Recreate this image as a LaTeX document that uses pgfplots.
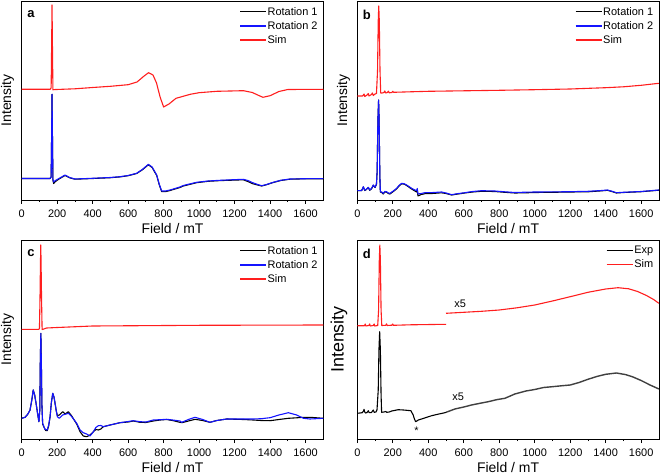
\documentclass[border=0pt]{standalone}
\usepackage{pgfplots}
\pgfplotsset{compat=1.18}
\usepackage{fontspec}
\setmainfont{Liberation Sans}
\definecolor{myred}{RGB}{255,30,30}
\definecolor{myblue}{RGB}{20,20,255}
\pgfplotsset{
  panel/.style={
    scale only axis, width=301.6bp, height=199bp,
    xmin=0, xmax=1700, ymin=0, ymax=199, y dir=reverse,
    ytick=\empty, xtick={0,200,...,1600}, minor x tick num=1,
    tick align=outside, xtick pos=left,
    major tick length=4bp, minor tick length=2bp,
    axis line style={line width=0.8bp}, every tick/.style={line width=0.8bp, black},
    /pgf/number format/assume math mode=true, /pgf/number format/1000 sep={},
    xticklabel style={font=\fontsize{11}{11}\selectfont, inner sep=0pt, yshift=-6bp},
    xlabel={Field / mT}, ylabel={Intensity},
    xlabel style={font=\fontsize{14}{14}\selectfont, at={(axis description cs:0.5,-0.117)}, anchor=north, inner sep=0pt},
    ylabel style={font=\fontsize{14}{14}\selectfont, at={(axis description cs:-0.047,0.5)}, anchor=center, inner sep=0pt},
    legend style={draw=none, fill=none, font=\fontsize{11}{12}\selectfont, at={(axis description cs:0.985,0.975)}, anchor=north east, inner sep=0pt, row sep=2.6bp, nodes={inner sep=1bp}},
    legend cell align=left,
    legend image code/.code={\draw[#1, line width=1.2bp] (0bp,0bp) -- (26bp,0bp);},
    every axis plot/.append style={line width=1.1bp, line join=round},
    clip=true,
  }
}
\begin{document}
\begin{tikzpicture}
\path[use as bounding box] (0bp,0bp) rectangle (661bp,475bp);
% ---------------- panel a
\begin{axis}[panel, at={(21.7bp,275bp)}, anchor=south west]
\addplot[black] coordinates {(0,177.5)(160,177.5)(166,176)(169,130)(171,93.3)(173,130)(176,179)(180,182.5)(190,180.5)(215,177.5)(244,174.5)(270,176.8)(300,178.2)(400,177.5)(500,176.7)(554,175.9)(600,174.7)(648,172.5)(680,168.8)(714,163.8)(735,166.5)(761,174.5)(775,183.5)(789,190.7)(810,190.7)(836,189.5)(892,186.5)(911,185)(986,181.7)(1050,180.3)(1118,179.6)(1249,178.8)(1275,180.5)(1302,182.7)(1330,184)(1353,185)(1380,183.7)(1418,181.5)(1460,179.5)(1512,178.2)(1600,177.8)(1700,177.8)};
\addlegendentry{Rotation 1}
\addplot[myblue] coordinates {(0,177.5)(160,177.5)(166,176)(169,130)(171,93.3)(173,130)(176,178)(179,181)(190,179.5)(215,177)(244,174)(270,176.5)(300,178)(400,177.3)(500,176.5)(554,175.7)(600,174.5)(648,172.3)(680,168.5)(714,163.3)(735,166)(761,174)(775,183)(789,190)(810,190)(836,189)(892,186)(911,184.5)(986,181.3)(1050,180)(1118,179.3)(1249,178.3)(1275,179.5)(1302,181.7)(1330,183.5)(1353,184.7)(1380,183.5)(1418,181.3)(1460,179.3)(1512,178)(1600,177.7)(1700,177.7)};
\addlegendentry{Rotation 2}
\addplot[myred] coordinates {(0,88.3)(160,88.3)(166,87)(169,40)(171,4)(173,40)(176,88.8)(180,88.6)(300,87.8)(400,86.5)(500,85.3)(600,83.7)(650,81)(690,75)(715,71.7)(740,74)(760,82)(780,96)(800,106)(830,103)(870,97.3)(950,93.3)(1000,91.7)(1100,90.3)(1250,89.7)(1300,91.5)(1330,94)(1360,96.3)(1400,94.7)(1450,90.5)(1500,88.5)(1700,88.3)};
\addlegendentry{Sim}
\node[anchor=north west, font=\bfseries\fontsize{13}{13}\selectfont, inner sep=0pt] at (axis description cs:0.018,0.955) {a};
\end{axis}
% ---------------- panel b
\begin{axis}[panel, at={(357.3bp,275bp)}, anchor=south west, ylabel style={at={(axis description cs:-0.046,0.5)}}]
\addplot[black] coordinates {(0,189.7)(25,189.5)(34,186)(42,189.5)(50,188.8)(62,186.5)(70,189.3)(80,187.8)(90,184.3)(100,186.5)(108,183.3)(112,170)(116,120)(120,99)(123,120)(127,175)(130,191)(138,191.5)(146,193)(155,191)(165,191.2)(175,192.5)(184,193)(203,190.5)(222,187.8)(235,185)(250,182.8)(265,183.2)(278,184.5)(306,188)(325,190)(334,191)(338,189)(342,195)(360,193.5)(381,192.7)(420,192.5)(475,191.8)(500,192.5)(532,194)(560,193.2)(606,192)(650,191)(700,190.3)(775,190.5)(830,191.3)(888,192)(950,191.8)(1000,191.5)(1100,191.3)(1200,191)(1300,190.8)(1380,189.8)(1410,189.3)(1440,190.8)(1460,192)(1500,191.5)(1600,190.7)(1700,189.2)};
\addlegendentry{Rotation 1}
\addplot[myblue] coordinates {(0,189.7)(25,189.5)(34,185.7)(42,189.2)(50,188.5)(62,186.3)(70,189)(80,187.5)(90,184)(100,186.3)(108,183)(112,170)(116,120)(120,99)(123,120)(127,175)(130,190.7)(138,191)(146,192.3)(155,190.5)(165,190.7)(175,192)(184,192.3)(203,190)(222,187.3)(235,184.5)(250,182.3)(265,182.8)(278,184)(306,187.3)(325,189)(334,189.7)(338,187.5)(342,193)(360,192.5)(381,191.7)(420,191.6)(475,191)(500,192)(532,193.7)(560,192.8)(606,191.7)(650,190.5)(700,189.7)(775,190)(830,190.8)(888,191.5)(950,191.2)(1000,191)(1100,190.9)(1200,190.7)(1300,190.3)(1380,189.5)(1410,189)(1440,190.5)(1460,191.7)(1500,191.3)(1600,190.5)(1700,189)};
\addlegendentry{Rotation 2}
\addplot[myred] coordinates {(0,95)(30,95)(38,93)(42,95.5)(55,94)(62,92.5)(66,95)(80,93.5)(85,92)(90,94.5)(100,93)(108,92.5)(114,70)(118,20)(121,5)(124,20)(128,70)(132,92)(140,92)(150,91.5)(155,90)(160,92)(170,91.5)(175,90.2)(180,91.8)(195,91.5)(200,90.3)(205,91.3)(300,90.8)(400,90.3)(600,89.8)(800,89.3)(1000,88.7)(1200,88)(1400,86.7)(1500,85.8)(1600,84.3)(1700,82.3)};
\addlegendentry{Sim}
\node[anchor=north west, font=\bfseries\fontsize{13}{13}\selectfont, inner sep=0pt] at (axis description cs:0.018,0.955) {b};
\end{axis}
% ---------------- panel c
\begin{axis}[panel, at={(21.7bp,36bp)}, anchor=south west]
\addplot[black] coordinates {(0,178.3)(19,177.3)(35,174)(47,170)(57,160)(65,150)(73,155)(81,163.3)(90,174)(97,181.7)(102,170)(105,120)(108,93.3)(111,125)(114,165)(118,184)(125,187)(135,190.5)(144,190.7)(152,186)(160,176.7)(167,163)(175,153.3)(182,157)(188,163.3)(195,171)(201,175.5)(212,175)(231,171.7)(245,174)(263,171.7)(282,176)(310,184)(329,191.7)(347,196)(366,196.7)(385,195)(404,191.7)(418,189.5)(432,190)(446,189)(460,186.7)(498,185)(554,182.7)(600,182)(629,181)(667,182.3)(700,182.5)(742,181)(780,180)(817,179.5)(850,180.5)(892,182.3)(902,182.7)(940,181)(977,179.3)(1020,180.5)(1061,182.3)(1100,180.5)(1156,179)(1250,179.5)(1306,180)(1350,180.5)(1400,180.7)(1450,179.5)(1503,178.3)(1550,177.8)(1588,177.3)(1625,177.3)(1700,178.3)};
\addlegendentry{Rotation 1}
\addplot[myblue] coordinates {(0,178.3)(19,177.3)(35,174)(47,170)(57,160)(65,150)(73,155)(81,163.3)(90,174)(97,181.7)(102,170)(105,120)(108,93.3)(111,125)(114,165)(118,183)(122,185)(131,189.3)(144,190)(152,185)(160,176.7)(167,163)(175,153.3)(182,157)(188,163.3)(195,171)(201,176.7)(212,178.3)(231,175)(250,174)(263,173.3)(282,176.7)(310,183.3)(329,190)(347,192.7)(366,194)(385,196)(404,191.7)(418,187.5)(432,185.7)(446,185.5)(460,186.7)(498,185)(554,182.7)(600,181.5)(629,180.7)(667,181.7)(700,182)(742,180)(780,179.7)(817,179.3)(850,180)(892,181)(902,182.3)(940,179.5)(977,177.3)(1020,179.5)(1061,182.3)(1100,180.5)(1156,179)(1250,179)(1306,179)(1350,178.7)(1400,177.7)(1450,175)(1503,172.7)(1550,175)(1588,178.3)(1625,179)(1700,178.3)};
\addlegendentry{Rotation 2}
\addplot[myred] coordinates {(0,89.3)(95,89.3)(100,88.8)(103,60)(106,20)(107.5,5)(109,20)(112,60)(115,89.5)(120,89.3)(140,88)(200,87.5)(400,86)(1000,85.3)(1700,85)};
\addlegendentry{Sim}
\node[anchor=north west, font=\bfseries\fontsize{13}{13}\selectfont, inner sep=0pt] at (axis description cs:0.018,0.955) {c};
\end{axis}
% ---------------- panel d
\begin{axis}[panel, at={(357.3bp,36bp)}, anchor=south west,
  ylabel style={font=\fontsize{18}{18}\selectfont, at={(axis description cs:-0.061,0.5)}},
  legend style={at={(axis description cs:0.985,0.975)}}]
\addplot[black] coordinates {(0,173.3)(28,172.7)(35,171)(38,169.3)(42,172)(47,173)(55,172.5)(62,170.7)(67,172.7)(80,172.5)(90,170)(95,172.3)(105,172)(111,170)(118,150)(122,110)(126,91.7)(130,110)(134,155)(137,172.3)(150,172)(160,171.5)(166,172.3)(180,172)(194,171)(231,169.7)(260,170)(278,170.3)(302,170.7)(315,175)(322,179)(329,181.7)(344,180)(380,178)(419,175.7)(460,174)(494,172.7)(500,172.3)};
\addlegendentry{Exp}
\addplot[myred] coordinates {(0,85.7)(40,85.7)(45,84)(48,86)(65,85.5)(70,84)(73,86)(90,85.5)(95,84)(98,86)(115,85.5)(120,70)(124,20)(127,5)(130,20)(134,70)(138,85.5)(160,85.3)(165,83.8)(168,85.5)(195,85.2)(200,84)(203,85.3)(300,84.8)(500,84.3)};
\addlegendentry{Sim}
\addplot[black!75, line width=1.4bp, forget plot] coordinates {(500,172.3)(550,169)(600,167)(644,165)(700,163)(738,161.7)(790,159.5)(832,158.3)(888,154)(950,151)(1000,149.5)(1050,147.5)(1100,146.7)(1150,145.8)(1200,145)(1250,142.5)(1300,139.3)(1350,136.5)(1400,134.3)(1460,133)(1510,134.5)(1550,136.7)(1600,140.5)(1650,145)(1700,149)};
\addplot[myred, forget plot] coordinates {(500,73.3)(600,72.3)(700,71.3)(800,70)(900,67.8)(1000,65)(1100,61)(1200,56.7)(1300,52.3)(1400,49)(1470,47.7)(1530,48.8)(1580,51.5)(1630,55.5)(1670,59.5)(1700,63.3)};
\node[font=\fontsize{11}{11}\selectfont, inner sep=0pt] at (axis cs:580,63.3) {x5};
\node[font=\fontsize{11}{11}\selectfont, inner sep=0pt] at (axis cs:568,156.7) {x5};
\node[font=\fontsize{11}{11}\selectfont, inner sep=0pt] at (axis cs:334,191) {*};
\node[anchor=north west, font=\bfseries\fontsize{13}{13}\selectfont, inner sep=0pt] at (axis description cs:0.018,0.955) {d};
\end{axis}
\end{tikzpicture}
\end{document}
